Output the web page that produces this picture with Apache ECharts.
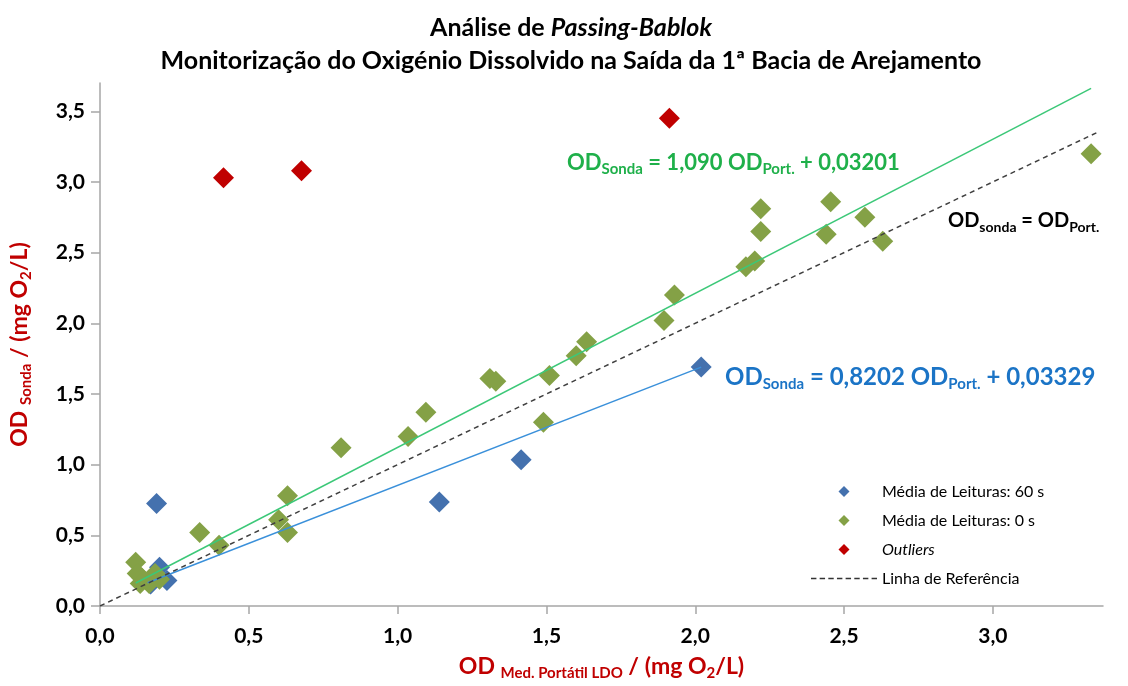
<!DOCTYPE html>
<html>
<head>
<meta charset="utf-8">
<title>Análise de Passing-Bablok</title>
<script src="https://cdn.jsdelivr.net/npm/echarts@6/dist/echarts.min.js"></script>
<style>
  html, body { margin: 0; padding: 0; background: #fff; }
  #chart { width: 1128px; height: 686px; }
</style>
</head>
<body>
<div id="chart"></div>
<script>
// Média de Leituras: 60 s
var med60X = [0.19, 0.20, 0.225, 0.17, 1.14, 1.415, 2.02];
var med60Y = [0.725, 0.275, 0.18, 0.155, 0.735, 1.035, 1.69];

// Média de Leituras: 0 s
var med0X = [0.12, 0.125, 0.14, 0.135, 0.165, 0.185, 0.20, 0.335, 0.40, 0.60, 0.63, 0.63, 0.81, 1.035, 1.095, 1.31, 1.33, 1.49, 1.51, 1.60, 1.635, 1.895, 1.93, 2.17, 2.20, 2.22, 2.22, 2.44, 2.455, 2.57, 2.63, 3.33];
var med0Y = [0.31, 0.23, 0.20, 0.16, 0.16, 0.23, 0.19, 0.52, 0.43, 0.61, 0.52, 0.78, 1.12, 1.20, 1.37, 1.61, 1.59, 1.30, 1.63, 1.77, 1.87, 2.02, 2.20, 2.40, 2.44, 2.81, 2.65, 2.63, 2.86, 2.75, 2.58, 3.20];

// Outliers
var outX = [0.415, 0.677, 1.913];
var outY = [3.03, 3.08, 3.45];

// retas de Passing-Bablok (declive, ordenada, limites em x)
var fit0 = {slope: 1.090, icpt: 0.03201, x: [0.12, 3.33]};
var fit60 = {slope: 0.8202, icpt: 0.03329, x: [0.16, 2.02]};
var refX = [0, 3.35];

var tickVals = [0, 0.5, 1.0, 1.5, 2.0, 2.5, 3.0, 3.5];

var FONT = 'Lato';

function pairs(xs, ys) {
    return xs.map(function (x, i) { return [x, ys[i]]; });
}
function fitLine(f) {
    return f.x.map(function (x) { return [x, f.slope * x + f.icpt]; });
}
function virgula(v) {
    return v.toFixed(1).replace('.', ',');
}

// icones da legenda (path para manter a proporção)
var diamondIcon = 'path://M5,0L10,5L5,10L0,5Z';
var dashIcon = 'path://';
for (var k = 0; k < 8; k++) {
    dashIcon += 'M' + (k * 8) + ',0h5v1.4h-5z ';
}

var chart = echarts.init(document.getElementById('chart'));

// rich para eixos (color) e para graphic (fill)
var subRich = function (color, big, small, key) {
    var m = {fontFamily: FONT, fontWeight: 'bold', fontSize: big, lineHeight: big + 6};
    var s = {fontFamily: FONT, fontWeight: 'bold', fontSize: small, lineHeight: small, verticalAlign: 'bottom'};
    m[key] = color;
    s[key] = color;
    return {m: m, s: s};
};

chart.setOption({
    backgroundColor: '#fff',
    animation: false,
    title: {
        left: 566,
        top: 6,
        textAlign: 'center',
        text: '{n|Análise de }{i|Passing-Bablok}\n{n|Monitorização do Oxigénio Dissolvido na Saída da 1ª Bacia de Arejamento}',
        textStyle: {
            rich: {
                n: {fontFamily: FONT, fontSize: 25, color: '#000', lineHeight: 33},
                i: {fontFamily: FONT, fontSize: 25, color: '#000', fontStyle: 'italic', lineHeight: 33}
            }
        }
    },
    grid: {left: 98, right: 25, top: 83, bottom: 77},
    legend: {
        left: 806,
        top: 477,
        orient: 'vertical',
        itemWidth: 66,
        itemHeight: 11,
        itemGap: 10,
        selectedMode: false,
        symbolKeepAspect: true,
        textStyle: {fontFamily: FONT, fontSize: 16, color: '#000', lineHeight: 19},
        data: [
            {name: 'Média de Leituras: 60 s', icon: diamondIcon},
            {name: 'Média de Leituras: 0 s', icon: diamondIcon},
            {name: 'Outliers', icon: diamondIcon, textStyle: {fontStyle: 'italic'}},
            {name: 'Linha de Referência', icon: dashIcon, itemStyle: {color: '#333', borderWidth: 0}}
        ]
    },
    xAxis: {
        type: 'value',
        min: 0,
        max: 3.37,
        interval: 0.5,
        splitLine: {show: false},
        axisLine: {onZero: false, lineStyle: {color: '#A6A6A6', width: 1.5}},
        axisTick: {show: true, length: 8, customValues: tickVals.slice(0, 7), lineStyle: {color: '#A6A6A6', width: 1.5}},
        axisLabel: {
            customValues: tickVals.slice(0, 7),
            margin: 20,
            fontFamily: FONT, fontWeight: 'bold', fontSize: 21, color: '#000',
            formatter: virgula
        },
        name: '{m|OD }{s|Med. Portátil LDO}{m| / (mg O}{s|2}{m|/L)}',
        nameLocation: 'middle',
        nameGap: 46,
        nameTextStyle: {rich: subRich('#C00000', 23, 15, 'color')}
    },
    yAxis: {
        type: 'value',
        min: 0,
        max: 3.7,
        interval: 0.5,
        splitLine: {show: false},
        axisLine: {show: true, lineStyle: {color: '#A6A6A6', width: 1.5}},
        axisTick: {show: true, length: 9, customValues: tickVals, lineStyle: {color: '#A6A6A6', width: 1.5}},
        axisLabel: {
            customValues: tickVals,
            margin: 15,
            fontFamily: FONT, fontWeight: 'bold', fontSize: 21, color: '#000',
            formatter: virgula
        },
        name: '{m|OD }{s|Sonda}{m| / (mg O}{s|2}{m|/L)}',
        nameLocation: 'middle',
        nameRotate: 90,
        nameGap: 66,
        nameTextStyle: {rich: subRich('#C00000', 23, 15, 'color')}
    },
    graphic: [
        {
            type: 'text', left: 567, top: 152,
            style: {
                text: '{m|OD}{s|Sonda}{m| = 1,090 OD}{s|Port.}{m| + 0,03201}',
                rich: subRich('#1FB04A', 22, 15, 'fill')
            }
        },
        {
            type: 'text', left: 725, top: 365,
            style: {
                text: '{m|OD}{s|Sonda}{m| = 0,8202 OD}{s|Port.}{m| + 0,03329}',
                rich: subRich('#1B74C6', 24, 15, 'fill')
            }
        },
        {
            type: 'text', left: 948, top: 211,
            style: {
                text: '{m|OD}{s|sonda}{m| = OD}{s|Port.}',
                rich: subRich('#000', 20, 14, 'fill')
            }
        }
    ],
    series: [
        {
            name: 'Média de Leituras: 60 s',
            type: 'scatter',
            symbol: 'diamond',
            symbolSize: 21,
            itemStyle: {color: '#4471AE', opacity: 1},
            data: pairs(med60X, med60Y)
        },
        {
            name: 'Média de Leituras: 0 s',
            type: 'scatter',
            symbol: 'diamond',
            symbolSize: 21,
            itemStyle: {color: '#84A146', opacity: 1},
            data: pairs(med0X, med0Y)
        },
        {
            name: 'Outliers',
            type: 'scatter',
            symbol: 'diamond',
            symbolSize: 21,
            itemStyle: {color: '#C00000', opacity: 1},
            data: pairs(outX, outY)
        },
        {
            name: 'reta 0 s',
            type: 'line',
            symbol: 'none',
            silent: true,
            z: 5,
            lineStyle: {color: '#3CC878', width: 1.5},
            data: fitLine(fit0)
        },
        {
            name: 'reta 60 s',
            type: 'line',
            symbol: 'none',
            silent: true,
            z: 5,
            lineStyle: {color: '#3A90DA', width: 1.5},
            data: fitLine(fit60)
        },
        {
            name: 'Linha de Referência',
            type: 'line',
            symbol: 'none',
            silent: true,
            z: 5,
            itemStyle: {color: '#333'},
            lineStyle: {color: '#404040', width: 1.5, type: [5, 4]},
            data: [[refX[0], refX[0]], [refX[1], refX[1]]]
        }
    ]
});
</script>
</body>
</html>
